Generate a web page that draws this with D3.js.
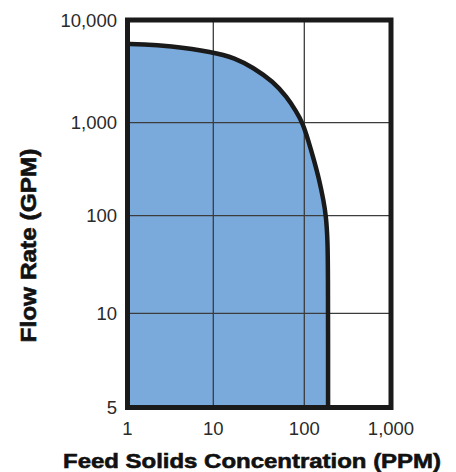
<!DOCTYPE html>
<html>
<head>
<meta charset="utf-8">
<script src="https://cdn.jsdelivr.net/npm/d3@7"></script>
<style>
  html, body { margin: 0; padding: 0; background: #fff; }
  svg { display: block; }
</style>
</head>
<body>
<svg id="chart" width="456" height="472"></svg>
<script>
// ---- data ----
const xTicks = [1, 10, 100, 1000];
const xTickLabels = ["1", "10", "100", "1,000"];
const yTicks = [5, 10, 100, 1000, 10000];
const yTickLabels = ["5", "10", "100", "1,000", "10,000"];
const concentration = [1, 1.5, 3, 10, 17.3, 27.3, 45.6, 64, 82, 96, 111, 129, 149, 166, 178, 186, 187.6, 188, 188];
const flowRate = [5830, 5820, 5600, 4880, 4260, 3450, 2510, 1790, 1280, 990, 650, 400, 242, 148, 100, 56, 25, 8, 5];
const xTitle = "Feed Solids Concentration (PPM)";
const yTitle = "Flow Rate (GPM)";

const svg = d3.select("#chart");

// piecewise log scales matching the printed grid spacing
const x = d3.scaleLog().domain(xTicks).range([127.5, 213.3, 304.3, 391]);
const y = d3.scaleLog().domain(yTicks).range([407.5, 313.3, 215.7, 122.7, 20]);

const pts = concentration.map((c, i) => [c, flowRate[i]]);

const lineGen = d3.line()
  .x(d => x(d[0]))
  .y(d => y(d[1]))
  .curve(d3.curveBasis);
const curvePath = lineGen(pts);

// fill under the curve
svg.append("path")
  .attr("d", curvePath + `L${x(1)},${y(5)}Z`)
  .attr("fill", "#7aaadc")
  .attr("stroke", "none");

// grid
const grid = svg.append("g").attr("stroke", "#3c3c3c").attr("stroke-width", 1.3);
grid.selectAll("line.vx").data(xTicks.slice(1, -1)).join("line")
  .attr("x1", d => x(d)).attr("x2", d => x(d))
  .attr("y1", y(10000)).attr("y2", y(5));
grid.selectAll("line.hy").data(yTicks.slice(1, -1)).join("line")
  .attr("y1", d => y(d)).attr("y2", d => y(d))
  .attr("x1", x(1)).attr("x2", x(1000));

// curve
svg.append("path")
  .attr("d", curvePath)
  .attr("fill", "none")
  .attr("stroke", "#1a1a1a")
  .attr("stroke-width", 4.5)
  .attr("stroke-linejoin", "round");

// frame
svg.append("rect")
  .attr("x", x(1)).attr("y", y(10000))
  .attr("width", x(1000) - x(1)).attr("height", y(5) - y(10000))
  .attr("fill", "none").attr("stroke", "#1a1a1a").attr("stroke-width", 5);

const font = "'Liberation Sans', Arial, Helvetica, sans-serif";

// y tick labels
svg.append("g").selectAll("text").data(yTicks).join("text")
  .attr("x", 117)
  .attr("y", d => y(d))
  .attr("dy", "0.36em")
  .attr("text-anchor", "end")
  .attr("font-family", font).attr("font-size", 18.5).attr("fill", "#2a2a2a")
  .text((d, i) => yTickLabels[i]);

// x tick labels
svg.append("g").selectAll("text").data(xTicks).join("text")
  .attr("x", d => x(d))
  .attr("y", 435)
  .attr("text-anchor", "middle")
  .attr("font-family", font).attr("font-size", 18.5).attr("fill", "#2a2a2a")
  .text((d, i) => xTickLabels[i]);

// titles
svg.append("text")
  .attr("x", 252).attr("y", 468)
  .attr("text-anchor", "middle")
  .attr("font-family", font).attr("font-size", 21).attr("font-weight", "bold")
  .attr("fill", "#111").attr("stroke", "#111").attr("stroke-width", 0.6)
  .attr("textLength", 378).attr("lengthAdjust", "spacingAndGlyphs")
  .text(xTitle);

svg.append("text")
  .attr("transform", "translate(36,245.5) rotate(-90)")
  .attr("text-anchor", "middle")
  .attr("font-family", font).attr("font-size", 22).attr("font-weight", "bold")
  .attr("fill", "#111").attr("stroke", "#111").attr("stroke-width", 0.6)
  .attr("textLength", 194).attr("lengthAdjust", "spacingAndGlyphs")
  .text(yTitle);
</script>
</body>
</html>
